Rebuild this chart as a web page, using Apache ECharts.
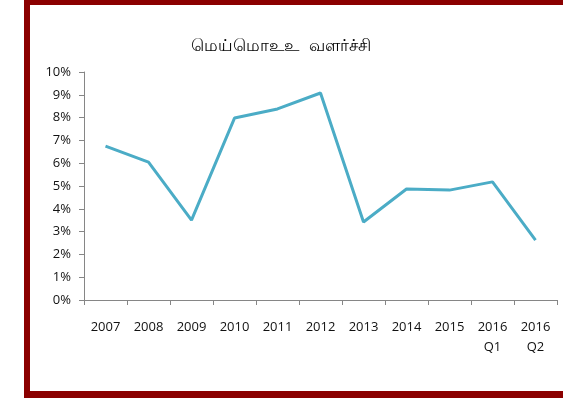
<!DOCTYPE html>
<html>
<head>
<meta charset="utf-8">
<script src="https://cdn.jsdelivr.net/npm/echarts@6/dist/echarts.min.js"></script>
<style>
html,body{margin:0;padding:0;background:#fff;}
#c{width:563px;height:401px;}
</style>
</head>
<body>
<div id="c"></div>
<script>
const titleText = 'மெய்மொஉஉ  வளர்ச்சி';
const categories = ['2007','2008','2009','2010','2011','2012','2013','2014','2015','2016\nQ1','2016\nQ2'];
const growth = [6.75, 6.05, 3.5, 7.98, 8.38, 9.08, 3.42, 4.87, 4.82, 5.18, 2.63];
const yTicks = [0,1,2,3,4,5,6,7,8,9,10];

const chart = echarts.init(document.getElementById('c'), null, {renderer:'canvas'});
chart.setOption({
  animation:false,
  backgroundColor:'#fff',
  title:{
    text:titleText, left:276, top:33, textAlign:'center',
    textStyle:{fontSize:17, fontWeight:'normal', color:'#000', fontFamily:'sans-serif'}
  },
  graphic:[
    {type:'rect', shape:{x:24,y:0,width:539,height:5}, style:{fill:'#8B0000'}},
    {type:'rect', shape:{x:24,y:0,width:6,height:398}, style:{fill:'#8B0000'}},
    {type:'rect', shape:{x:24,y:391,width:539,height:7}, style:{fill:'#8B0000'}}
  ],
  grid:{left:84, right:6, top:72, bottom:101},
  xAxis:{
    type:'category', data:categories, boundaryGap:true,
    axisLine:{lineStyle:{color:'#868686', width:1}},
    axisTick:{show:true, length:5, lineStyle:{color:'#868686'}},
    axisLabel:{color:'#111', fontSize:13, fontFamily:'Open Sans', margin:17, lineHeight:20, interval:0}
  },
  yAxis:{
    type:'value', min:0, max:10, interval:1,
    axisLine:{show:true, lineStyle:{color:'#868686', width:1}},
    axisTick:{show:true, length:5, lineStyle:{color:'#868686'}},
    splitLine:{show:false},
    axisLabel:{color:'#111', fontSize:13, fontFamily:'Open Sans', margin:13, formatter: v => v + '%'}
  },
  series:[{
    type:'line', data:growth, symbol:'none',
    lineStyle:{color:'#4BACC6', width:3}
  }]
});
</script>
</body>
</html>
